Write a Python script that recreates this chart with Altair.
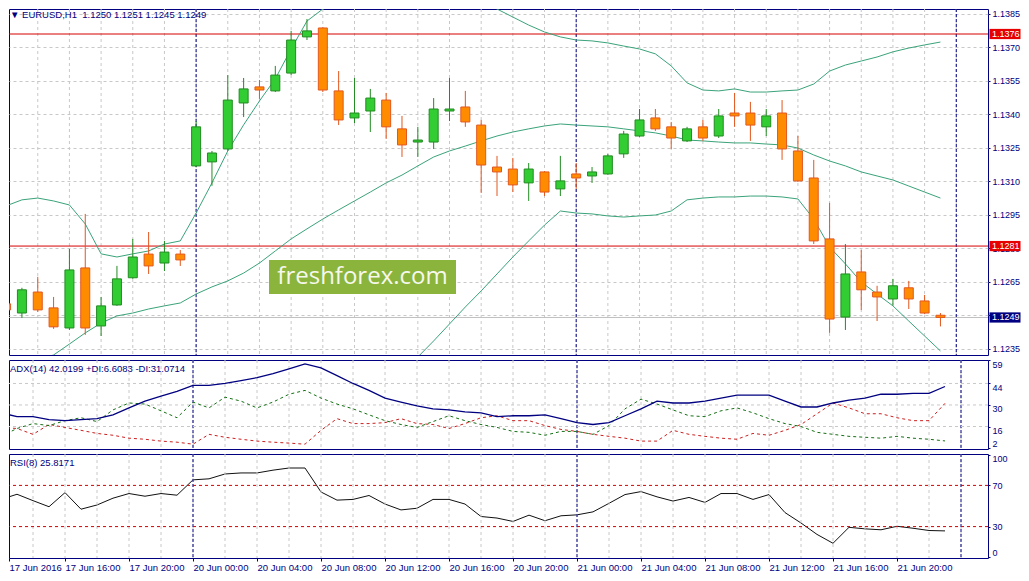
import altair as alt
import pandas as pd

# ---------------- data ----------------
opens = [1.12551, 1.12510, 1.12604, 1.12533, 1.12443, 1.12712, 1.12452, 1.12546, 1.12668, 1.12774,
         1.12734, 1.12774, 1.13169, 1.13187, 1.13245, 1.13451, 1.13523, 1.13505, 1.13585, 1.13747,
         1.13787, 1.13505, 1.13384, 1.13415, 1.13464, 1.13335, 1.13276, 1.13276, 1.13415, 1.13433,
         1.13352, 1.13164, 1.13155, 1.13093, 1.13142, 1.13066, 1.13133, 1.13124, 1.13133, 1.13223,
         1.13303, 1.13384, 1.13344, 1.13281, 1.13344, 1.13303, 1.13406, 1.13406, 1.13344, 1.13406,
         1.13236, 1.13115, 1.12842, 1.12492, 1.12694, 1.12604, 1.12573, 1.12623, 1.12564, 1.12500]
highs = [1.12564, 1.12623, 1.12672, 1.12582, 1.12797, 1.12954, 1.12582, 1.12721, 1.12842, 1.12873,
         1.12833, 1.12792, 1.13370, 1.13236, 1.13576, 1.13563, 1.13554, 1.13617, 1.13774, 1.13827,
         1.13790, 1.13594, 1.13563, 1.13514, 1.13496, 1.13393, 1.13344, 1.13473, 1.13563, 1.13505,
         1.13375, 1.13214, 1.13205, 1.13182, 1.13146, 1.13214, 1.13182, 1.13164, 1.13223, 1.13326,
         1.13424, 1.13424, 1.13366, 1.13344, 1.13375, 1.13424, 1.13496, 1.13456, 1.13424, 1.13464,
         1.13303, 1.13196, 1.13003, 1.12819, 1.12792, 1.12632, 1.12663, 1.12654, 1.12591, 1.12510]
lows = [1.12412, 1.12488, 1.12515, 1.12439, 1.12434, 1.12412, 1.12407, 1.12542, 1.12663, 1.12685,
        1.12698, 1.12721, 1.13164, 1.13080, 1.13236, 1.13388, 1.13469, 1.13500, 1.13576, 1.13733,
        1.13500, 1.13352, 1.13361, 1.13321, 1.13290, 1.13209, 1.13209, 1.13245, 1.13370, 1.13344,
        1.13048, 1.13034, 1.13052, 1.13012, 1.13034, 1.13034, 1.13066, 1.13093, 1.13129, 1.13205,
        1.13299, 1.13326, 1.13245, 1.13276, 1.13281, 1.13294, 1.13344, 1.13281, 1.13303, 1.13196,
        1.13097, 1.12819, 1.12421, 1.12434, 1.12524, 1.12474, 1.12544, 1.12528, 1.12505, 1.12450]
closes = [1.12524, 1.12614, 1.12524, 1.12448, 1.12703, 1.12443, 1.12542, 1.12663, 1.12761, 1.12721,
          1.12783, 1.12748, 1.13344, 1.13227, 1.13464, 1.13514, 1.13509, 1.13576, 1.13733, 1.13774,
          1.13509, 1.13375, 1.13406, 1.13473, 1.13344, 1.13263, 1.13285, 1.13424, 1.13424, 1.13366,
          1.13173, 1.13142, 1.13084, 1.13155, 1.13052, 1.13102, 1.13115, 1.13142, 1.13214, 1.13312,
          1.13375, 1.13335, 1.13294, 1.13335, 1.13294, 1.13393, 1.13393, 1.13352, 1.13393, 1.13245,
          1.13102, 1.12833, 1.12483, 1.12685, 1.12614, 1.12582, 1.12632, 1.12573, 1.12510, 1.12490]

bb_upper = [1.12990, 1.13017, 1.13025, 1.13012, 1.12994, 1.12909, 1.12775, 1.12761, 1.12775, 1.12788,
            1.12819, 1.12833, 1.12958, 1.13093, 1.13236, 1.13353, 1.13460, 1.13559, 1.13693, 1.13818,
            1.13872, 1.13899, 1.13930, 1.13953, 1.13971, 1.13980, 1.13980, 1.13971, 1.13962, 1.13944,
            1.13908, 1.13872, 1.13836, 1.13800, 1.13769, 1.13747, 1.13733, 1.13729, 1.13720, 1.13706,
            1.13693, 1.13671, 1.13617, 1.13541, 1.13509, 1.13505, 1.13514, 1.13500, 1.13500, 1.13505,
            1.13509, 1.13536, 1.13594, 1.13621, 1.13639, 1.13657, 1.13680, 1.13697, 1.13711, 1.13724]
bb_middle = [1.12241, 1.12268, 1.12300, 1.12322, 1.12371, 1.12421, 1.12465, 1.12497, 1.12510, 1.12528,
             1.12542, 1.12555, 1.12595, 1.12627, 1.12654, 1.12689, 1.12734, 1.12788, 1.12842, 1.12887,
             1.12931, 1.12972, 1.13012, 1.13052, 1.13093, 1.13128, 1.13169, 1.13209, 1.13236, 1.13258,
             1.13281, 1.13303, 1.13321, 1.13335, 1.13348, 1.13357, 1.13352, 1.13348, 1.13344, 1.13335,
             1.13326, 1.13317, 1.13303, 1.13285, 1.13281, 1.13276, 1.13272, 1.13272, 1.13267, 1.13263,
             1.13249, 1.13218, 1.13191, 1.13169, 1.13142, 1.13124, 1.13106, 1.13079, 1.13052, 1.13025]
bb_lower = [1.11493, 1.11520, 1.11574, 1.11632, 1.11704, 1.11861, 1.12156, 1.12232, 1.12246, 1.12268,
            1.12264, 1.12277, 1.12232, 1.12161, 1.12071, 1.12026, 1.12009, 1.12017, 1.11991, 1.11955,
            1.11991, 1.12044, 1.12094, 1.12152, 1.12215, 1.12277, 1.12313, 1.12385, 1.12461, 1.12537,
            1.12609, 1.12685, 1.12761, 1.12833, 1.12904, 1.12967, 1.12958, 1.12954, 1.12945, 1.12940,
            1.12945, 1.12949, 1.12967, 1.13017, 1.13025, 1.13030, 1.13030, 1.13034, 1.13034, 1.13030,
            1.13021, 1.12931, 1.12806, 1.12730, 1.12649, 1.12595, 1.12542, 1.12474, 1.12407, 1.12340]

adx_vals = [24.9, 22.4, 22.4, 20.5, 19.8, 20.5, 21.1, 23.6, 28.1, 32.5,
            35.7, 38.9, 42.7, 42.7, 44.0, 45.9, 47.8, 50.4, 53.5, 56.7,
            54.2, 49.1, 44.0, 39.5, 34.5, 31.9, 29.4, 27.5, 26.8, 25.5,
            24.9, 22.4, 23.0, 23.0, 23.6, 21.1, 18.5, 17.3, 18.5, 23.0,
            27.5, 32.5, 31.3, 31.3, 32.5, 34.5, 36.4, 36.4, 36.4, 32.5,
            28.7, 28.7, 31.3, 33.2, 34.5, 37.0, 37.0, 37.6, 37.6, 42.02]
plus_di = [9.6, 14.7, 17.9, 16.6, 19.8, 21.7, 19.2, 26.8, 31.3, 30.6,
           26.2, 21.7, 31.9, 28.1, 35.1, 32.5, 28.1, 31.9, 37.0, 39.5,
           34.5, 30.6, 27.5, 23.6, 19.8, 17.3, 15.4, 19.2, 23.0, 19.8,
           17.3, 15.4, 12.8, 12.2, 10.3, 12.8, 12.8, 10.9, 16.6, 27.5,
           33.8, 30.6, 26.8, 23.0, 22.4, 26.2, 28.1, 24.9, 21.1, 17.9,
           16.0, 12.2, 10.9, 9.6, 9.0, 8.4, 9.6, 8.4, 7.7, 6.61]
minus_di = [15.4, 14.7, 10.9, 17.3, 15.4, 13.5, 11.5, 10.3, 8.4, 7.7,
            6.5, 5.8, 4.5, 10.9, 9.0, 7.7, 6.5, 5.8, 5.2, 4.5,
            13.5, 21.1, 17.9, 17.9, 18.5, 21.1, 17.9, 17.3, 14.7, 17.9,
            21.7, 23.0, 19.8, 19.8, 16.6, 14.1, 12.8, 10.9, 9.6, 8.4,
            6.5, 6.5, 13.5, 10.9, 9.6, 8.4, 7.7, 11.5, 10.3, 13.5,
            17.3, 24.3, 31.3, 28.1, 24.3, 24.3, 21.7, 19.8, 19.8, 31.07]
rsi_vals = [56.4, 61.4, 55.2, 49.3, 63.0, 46.9, 51.0, 57.6, 62.1, 59.5,
            62.1, 60.5, 75.4, 76.4, 81.1, 82.1, 82.1, 84.8, 86.9, 86.9,
            63.6, 55.7, 56.4, 60.2, 51.9, 46.2, 47.8, 56.4, 56.4, 51.9,
            39.8, 38.3, 35.0, 41.1, 35.7, 40.5, 41.4, 44.3, 52.6, 61.1,
            64.0, 58.9, 54.8, 58.3, 53.5, 62.1, 62.1, 56.4, 61.1, 43.6,
            33.5, 22.4, 13.8, 29.3, 27.8, 26.9, 30.3, 28.4, 26.2, 25.8171]

tick_labels = ["17 Jun 2016", "17 Jun 16:00", "17 Jun 20:00", "20 Jun 00:00", "20 Jun 04:00",
               "20 Jun 08:00", "20 Jun 12:00", "20 Jun 16:00", "20 Jun 20:00", "21 Jun 00:00",
               "21 Jun 04:00", "21 Jun 08:00", "21 Jun 12:00", "21 Jun 16:00", "21 Jun 20:00"]
tick_index = [0.5, 4, 8, 12, 16, 20, 24, 28, 32, 36, 40, 44, 48, 52, 56]
separators = [12, 36, 60]
grid_index = list(range(2, 62, 2))
price_ticks = [1.1235, 1.1250, 1.1265, 1.1280, 1.1295, 1.1310, 1.1325, 1.1340, 1.1355, 1.1370, 1.1385]
hlines = [1.1376, 1.1281]
hline_labels = ["1.1376", "1.1281"]
bid_price = [1.1249]
bid_label = ["1.1249"]
adx_levels = [44, 30, 16]
adx_ticks = [59, 44, 30, 16, 2]
rsi_levels = [70, 30]
rsi_ticks = [100, 70, 30, 0]
header = "\u25bc EURUSD,H1\u00a0\u00a01.1250 1.1251 1.1245 1.1249"
adx_title = "ADX(14) 42.0199 +DI:6.6083 -DI:31.0714"
rsi_title = "RSI(8) 25.8171"
watermark = "freshforex.com"

# ---------------- styles ----------------
FONT = "Liberation Sans"
FS = 9.5
AFS = 9
NAVY = "#000080"
GRID = "#c8c8c8"
BB = "#3aa37a"
RED = "#d40000"
RED_TAG = "#e60000"
G_FILL, G_EDGE = "#32cd32", "#228b22"
O_FILL, O_EDGE = "#ff8c00", "#e2571e"
TAG_SHAPE = "M-1,-0.33L1,-0.33L1,0.33L-1,0.33Z"   # wide flat box for price tags

n = len(opens)
idx = list(range(n))
W = 979                       # plot spans page x 8 .. 987
H_MAIN, H_ADX, H_RSI = 346, 89, 104
PX = 0.0000448                # price per pixel in the main panel
TOP_PRICE = 1.13872

xs = alt.Scale(domain=[0.5, 61.6875], nice=False, zero=False)
X = alt.X("i:Q", scale=xs, axis=None)

grid_df = pd.DataFrame({"i": grid_index})
sep_df = pd.DataFrame({"i": separators})


def vgrid(xenc):
    return alt.Chart(grid_df).mark_rule(color=GRID, strokeDash=[3, 3], strokeWidth=1).encode(x=xenc)


def seps(xenc):
    return alt.Chart(sep_df).mark_rule(color=NAVY, strokeDash=[3, 2], strokeWidth=1).encode(x=xenc)


def right_axis(values, **kw):
    return alt.Axis(orient="right", values=values, domain=False, tickSize=2, tickColor=NAVY,
                    labelColor=NAVY, labelFont=FONT, labelFontSize=AFS, labelPadding=2,
                    title=None, labelOverlap=False, **kw)


# ---------------- main price panel ----------------
ys = alt.Scale(domain=[TOP_PRICE - H_MAIN * PX, TOP_PRICE], nice=False, zero=False)
yax = right_axis(price_ticks, format=".4f", grid=True, gridColor=GRID, gridDash=[3, 3])

candles = pd.DataFrame({"i": idx, "open": opens, "high": highs, "low": lows, "close": closes})
candles["dir"] = ["up" if c > o else "down" for o, c in zip(opens, closes)]

bands = pd.DataFrame({
    "i": idx * 3,
    "value": bb_upper + bb_middle + bb_lower,
    "band": ["upper"] * n + ["middle"] * n + ["lower"] * n,
})

hl = alt.Chart(pd.DataFrame({"price": hlines})).mark_rule(color=RED, strokeWidth=1).encode(
    y=alt.Y("price:Q", scale=ys, axis=yax))
bid = alt.Chart(pd.DataFrame({"price": bid_price})).mark_rule(color="#c0c0c0", strokeWidth=1).encode(
    y=alt.Y("price:Q", scale=ys, axis=yax))
band_lines = alt.Chart(bands).mark_line(color=BB, strokeWidth=1, clip=True).encode(
    x=X, y=alt.Y("value:Q", scale=ys, axis=yax), detail="band:N")
wicks = alt.Chart(candles).mark_rule(strokeWidth=1, clip=True).encode(
    x=X, y=alt.Y("low:Q", scale=ys, axis=yax), y2="high:Q",
    color=alt.Color("dir:N", scale=alt.Scale(domain=["up", "down"], range=[G_EDGE, O_EDGE]), legend=None))
bodies = alt.Chart(candles).mark_bar(size=9, strokeWidth=1, clip=True).encode(
    x=X, y=alt.Y("open:Q", scale=ys, axis=yax), y2="close:Q",
    fill=alt.Fill("dir:N", scale=alt.Scale(domain=["up", "down"], range=[G_FILL, O_FILL]), legend=None),
    stroke=alt.Stroke("dir:N", scale=alt.Scale(domain=["up", "down"], range=[G_EDGE, O_EDGE]), legend=None))

wm_df = pd.DataFrame({"t": [watermark]})
wm_box = alt.Chart(wm_df).mark_rect(color="#8bb43c").encode(
    x=alt.value(260), x2=alt.value(447), y=alt.value(251), y2=alt.value(285))
wm_txt = alt.Chart(wm_df).mark_text(font="Open Sans", fontSize=24, color="#f6f8ee",
                                    align="center", baseline="middle").encode(
    x=alt.value(353.5), y=alt.value(268), text="t:N")

red_tags_df = pd.DataFrame({"price": hlines, "label": hline_labels})
bid_tag_df = pd.DataFrame({"price": bid_price, "label": bid_label})
red_tag = alt.Chart(red_tags_df).mark_point(
    shape=TAG_SHAPE, size=961, filled=True, opacity=1, color=RED_TAG, strokeWidth=0).encode(
    x=alt.value(996), y=alt.Y("price:Q", scale=ys, axis=yax))
bid_tag = alt.Chart(bid_tag_df).mark_point(
    shape=TAG_SHAPE, size=961, filled=True, opacity=1, color=NAVY, strokeWidth=0).encode(
    x=alt.value(996), y=alt.Y("price:Q", scale=ys, axis=yax))
tag_txt_red = alt.Chart(red_tags_df).mark_text(color="white", align="left", baseline="middle",
                                               font=FONT, fontSize=AFS).encode(
    x=alt.value(983), y=alt.Y("price:Q", scale=ys, axis=yax), text="label:N")
tag_txt_bid = alt.Chart(bid_tag_df).mark_text(color="white", align="left", baseline="middle",
                                              font=FONT, fontSize=AFS).encode(
    x=alt.value(983), y=alt.Y("price:Q", scale=ys, axis=yax), text="label:N")

head = alt.Chart(pd.DataFrame({"t": [header]})).mark_text(
    align="left", baseline="top", font=FONT, fontSize=FS, color=NAVY).encode(
    x=alt.value(1), y=alt.value(0.5), text="t:N")

main = alt.layer(vgrid(X), seps(X), hl, bid, band_lines, wicks, bodies, wm_box, wm_txt,
                 red_tag, bid_tag, tag_txt_red, tag_txt_bid, head).properties(width=W, height=H_MAIN)

# ---------------- ADX panel ----------------
ysa = alt.Scale(domain=[1.36, 59.27], nice=False, zero=False)
yaxa = right_axis(adx_ticks, grid=False,
                  labelBaseline={"condition": {"test": "datum.value == 2", "value": "bottom"},
                                 "value": "top"})
adx_df = pd.DataFrame({"i": idx, "adx": adx_vals, "pdi": plus_di, "mdi": minus_di})
adx_lv = alt.Chart(pd.DataFrame({"v": adx_levels})).mark_rule(
    color=GRID, strokeDash=[3, 3], strokeWidth=1).encode(y=alt.Y("v:Q", scale=ysa, axis=yaxa))
adx_line = alt.Chart(adx_df).mark_line(color=NAVY, strokeWidth=1.3, clip=True).encode(
    x=X, y=alt.Y("adx:Q", scale=ysa, axis=yaxa))
pdi_line = alt.Chart(adx_df).mark_line(color="#157015", strokeWidth=1, strokeDash=[3, 3], clip=True).encode(
    x=X, y=alt.Y("pdi:Q", scale=ysa, axis=yaxa))
mdi_line = alt.Chart(adx_df).mark_line(color="#cc2020", strokeWidth=1, strokeDash=[3, 3], clip=True).encode(
    x=X, y=alt.Y("mdi:Q", scale=ysa, axis=yaxa))
adx_head = alt.Chart(pd.DataFrame({"t": [adx_title]})).mark_text(
    align="left", baseline="middle", font=FONT, fontSize=FS, color=NAVY).encode(
    x=alt.value(1), y=alt.value(9), text="t:N")
adx_chart = alt.layer(vgrid(X), seps(X), adx_lv, mdi_line, pdi_line, adx_line, adx_head).properties(
    width=W, height=H_ADX)

# ---------------- RSI panel ----------------
ysr = alt.Scale(domain=[-0.5, 100.5], nice=False, zero=False)
yaxr = right_axis(rsi_ticks, grid=False, labelFlush=2)
label_expr = "[" + ",".join("'" + t + "'" for t in tick_labels) + "][round(datum.value / 4)]"
xax = alt.Axis(values=tick_index, labelExpr=label_expr, labelAlign="left", labelBaseline="top",
               labelFlush=False, labelOverlap=False, tickSize=3, tickColor=NAVY, domain=False,
               grid=False, labelPadding=1, labelFont=FONT, labelFontSize=FS, labelColor=NAVY,
               title=None)
XR = alt.X("i:Q", scale=xs, axis=xax)
rsi_df = pd.DataFrame({"i": idx, "rsi": rsi_vals})
rsi_lv = alt.Chart(pd.DataFrame({"v": rsi_levels})).mark_rule(
    color=RED, strokeDash=[3, 3], strokeWidth=1).encode(y=alt.Y("v:Q", scale=ysr, axis=yaxr))
rsi_line = alt.Chart(rsi_df).mark_line(color="#101010", strokeWidth=1, clip=True).encode(
    x=XR, y=alt.Y("rsi:Q", scale=ysr, axis=yaxr))
rsi_head = alt.Chart(pd.DataFrame({"t": [rsi_title]})).mark_text(
    align="left", baseline="middle", font=FONT, fontSize=FS, color=NAVY).encode(
    x=alt.value(1), y=alt.value(9), text="t:N")
rsi_chart = alt.layer(rsi_line, vgrid(XR), seps(XR), rsi_lv, rsi_head).properties(width=W, height=H_RSI)

chart = alt.vconcat(main, adx_chart, rsi_chart, spacing=3).properties(
    padding=0,
    background="white",
).configure_view(stroke=NAVY, strokeWidth=1)

chart.save("out.html", embed_options={"renderer": "svg", "actions": False})
